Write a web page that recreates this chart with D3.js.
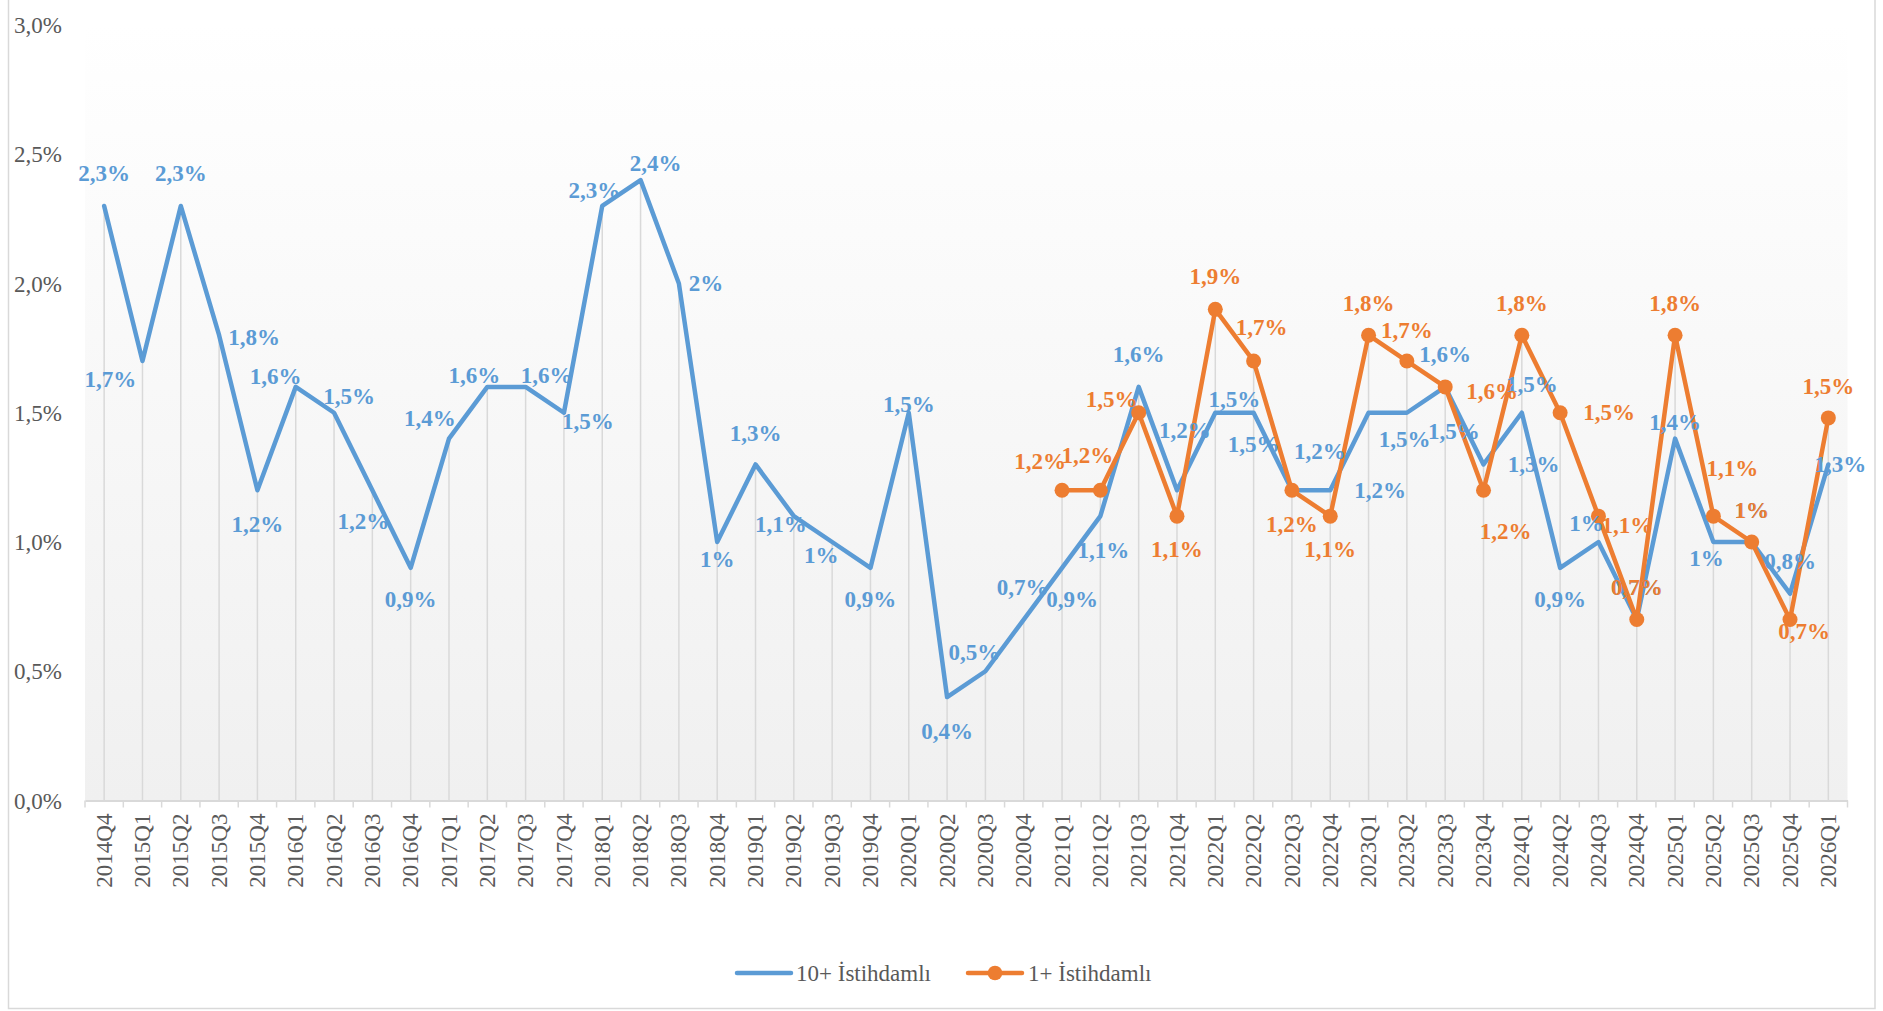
<!DOCTYPE html>
<html>
<head>
<meta charset="utf-8">
<script src="https://cdn.jsdelivr.net/npm/d3@7"></script>
<style>
  body { margin: 0; background: #fff; }
  svg { display: block; }
  text { font-family: "Liberation Serif", "Times New Roman", serif; }
</style>
</head>
<body>
<svg id="chart"></svg>
<script>
// quarters on the x axis
const categories = [
  '2014Q4',
  '2015Q1', '2015Q2', '2015Q3', '2015Q4',
  '2016Q1', '2016Q2', '2016Q3', '2016Q4',
  '2017Q1', '2017Q2', '2017Q3', '2017Q4',
  '2018Q1', '2018Q2', '2018Q3', '2018Q4',
  '2019Q1', '2019Q2', '2019Q3', '2019Q4',
  '2020Q1', '2020Q2', '2020Q3', '2020Q4',
  '2021Q1', '2021Q2', '2021Q3', '2021Q4',
  '2022Q1', '2022Q2', '2022Q3', '2022Q4',
  '2023Q1', '2023Q2', '2023Q3', '2023Q4',
  '2024Q1', '2024Q2', '2024Q3', '2024Q4',
  '2025Q1', '2025Q2', '2025Q3', '2025Q4',
  '2026Q1'
];

// 10+ İstihdamlı (%)
const tenPlus = [
  2.3,
  1.7, 2.3, 1.8, 1.2,
  1.6, 1.5, 1.2, 0.9,
  1.4, 1.6, 1.6, 1.5,
  2.3, 2.4, 2.0, 1.0,
  1.3, 1.1, 1.0, 0.9,
  1.5, 0.4, 0.5, 0.7,
  0.9, 1.1, 1.6, 1.2,
  1.5, 1.5, 1.2, 1.2,
  1.5, 1.5, 1.6, 1.3,
  1.5, 0.9, 1.0, 0.7,
  1.4, 1.0, 1.0, 0.8,
  1.3
];

// 1+ İstihdamlı (%), series starts at 2021Q1
const onePlus = [
  null,
  null, null, null, null,
  null, null, null, null,
  null, null, null, null,
  null, null, null, null,
  null, null, null, null,
  null, null, null, null,
  1.2, 1.2, 1.5, 1.1,
  1.9, 1.7, 1.2, 1.1,
  1.8, 1.7, 1.6, 1.2,
  1.8, 1.5, 1.1, 0.7,
  1.8, 1.1, 1.0, 0.7,
  1.48
];

const yTicks = [0, 0.5, 1.0, 1.5, 2.0, 2.5, 3.0];

const seriesNames = ['10+ İstihdamlı', '1+ İstihdamlı'];

// where each data label sits relative to its point (px)
const tenPlusLabelPos = [
  [0, -33],
  [-32, 18], [0, -33], [35, 2], [0, 34],
  [-20, -10], [15, -16], [-9, 31], [0, 32],
  [-19, -20], [-13, -11], [21, -11], [24, 9],
  [-8, -16], [15, -17], [27, 0], [0, 17],
  [0, -31], [-13, 8], [-11, 13], [0, 32],
  [0, -8], [0, 34], [-11, -19], [-1, -32],
  [10, 32], [3, 34], [0, -32], [8, -60],
  [19, -13], [0, 32], [28, -39], [50, 0],
  [36, 27], [47, 19], [0, -32], [50, 0],
  [10, -28], [0, 32], [-12, -19], [0, -32],
  [0, -16], [-7, 16], [0, -32], [0, -32],
  [12, 0]
];
const onePlusLabelPos = {
  '2021Q1': [-22, -29], '2021Q2': [-13, -35], '2021Q3': [-27, -13], '2021Q4': [0, 33],
  '2022Q1': [0, -33], '2022Q2': [8, -34], '2022Q3': [0, 34], '2022Q4': [0, 33],
  '2023Q1': [0, -32], '2023Q2': [0, -31], '2023Q3': [47, 5], '2023Q4': [22, 41],
  '2024Q1': [0, -32], '2024Q2': [49, 0], '2024Q3': [29, 9], '2024Q4': [0, -32],
  '2025Q1': [0, -32], '2025Q2': [19, -48], '2025Q3': [0, -32], '2025Q4': [14, 12],
  '2026Q1': [0, -32]
};

const W = 1883, H = 1011;
const blue = '#5b9bd5', orange = '#ed7d31', grey = '#d9d9d9', txt = '#595959';

const svg = d3.select('#chart').attr('width', W).attr('height', H);

const x = d3.scaleBand().domain(categories).range([85, 1847.5]).paddingInner(0).paddingOuter(0);
const cx = c => x(c) + x.bandwidth() / 2;
const y = d3.scaleLinear().domain([0, 3]).range([800.5, 25]);

const fmt = v => {
  const s = (Math.round(v * 10) / 10).toFixed(1).replace('.', ',');
  return (s.endsWith(',0') ? s.slice(0, -2) : s) + '%';
};

// chart border
svg.append('rect')
  .attr('x', 8.5).attr('y', -2).attr('width', 1866.5).attr('height', 1010.5)
  .attr('fill', '#fff').attr('stroke', grey).attr('stroke-width', 1.5);

// plot area gradient
const grad = svg.append('defs').append('linearGradient')
  .attr('id', 'plotGrad').attr('x1', 0).attr('y1', 0).attr('x2', 0).attr('y2', 1);
grad.append('stop').attr('offset', '0%').attr('stop-color', '#ffffff');
grad.append('stop').attr('offset', '100%').attr('stop-color', '#f0f0f0');

svg.append('rect')
  .attr('x', x.range()[0]).attr('y', y(3))
  .attr('width', x.range()[1] - x.range()[0]).attr('height', y(0) - y(3))
  .attr('fill', 'url(#plotGrad)');

// drop lines from highest point to the axis
svg.append('g').selectAll('line')
  .data(categories)
  .join('line')
  .attr('x1', c => cx(c)).attr('x2', c => cx(c))
  .attr('y1', (c, i) => y(Math.max(tenPlus[i], onePlus[i] ?? 0)))
  .attr('y2', y(0))
  .attr('stroke', grey).attr('stroke-width', 1.5);

// x axis
const xAxis = svg.append('g')
  .attr('transform', `translate(0,${y(0)})`)
  .call(d3.axisBottom(x).tickSize(0).tickPadding(0));
xAxis.select('.domain').attr('stroke', grey).attr('stroke-width', 2);
xAxis.selectAll('.tick text')
  .attr('transform', 'rotate(-90)')
  .attr('x', -13).attr('y', 0).attr('dy', '0.33em')
  .attr('text-anchor', 'end')
  .attr('fill', txt)
  .style('font-size', '23px');
xAxis.append('g').selectAll('line')
  .data(categories.map(c => x(c)).concat([x.range()[1]]))
  .join('line')
  .attr('x1', d => d).attr('x2', d => d)
  .attr('y1', 0).attr('y2', 7)
  .attr('stroke', grey).attr('stroke-width', 1.5);

// y axis
const yAxis = svg.append('g')
  .attr('transform', `translate(${x.range()[0]},0)`)
  .call(d3.axisLeft(y).tickValues(yTicks).tickSize(0).tickPadding(23)
    .tickFormat(v => v.toFixed(1).replace('.', ',') + '%'));
yAxis.select('.domain').remove();
yAxis.selectAll('.tick text')
  .attr('fill', txt)
  .attr('dy', '0.33em')
  .style('font-size', '23px');

// lines
const line = d3.line()
  .defined(d => d.v != null)
  .x(d => cx(d.c))
  .y(d => y(d.v));

const tenData = categories.map((c, i) => ({ c, v: tenPlus[i] }));
const oneData = categories.map((c, i) => ({ c, v: onePlus[i] })).filter(d => d.v != null);

svg.append('path')
  .datum(tenData)
  .attr('d', line)
  .attr('fill', 'none').attr('stroke', blue).attr('stroke-width', 4.5)
  .attr('stroke-linejoin', 'round').attr('stroke-linecap', 'round');

svg.append('path')
  .datum(oneData)
  .attr('d', line)
  .attr('fill', 'none').attr('stroke', orange).attr('stroke-width', 4.5)
  .attr('stroke-linejoin', 'round').attr('stroke-linecap', 'round');

svg.append('g').selectAll('circle')
  .data(oneData)
  .join('circle')
  .attr('cx', d => cx(d.c)).attr('cy', d => y(d.v))
  .attr('r', 7.5)
  .attr('fill', orange);

// data labels
svg.append('g').selectAll('text')
  .data(tenData)
  .join('text')
  .attr('x', (d, i) => cx(d.c) + tenPlusLabelPos[i][0])
  .attr('y', (d, i) => y(d.v) + tenPlusLabelPos[i][1])
  .attr('dy', '0.33em')
  .attr('text-anchor', 'middle')
  .attr('fill', blue)
  .style('font-size', '23px').style('font-weight', 'bold')
  .text(d => fmt(d.v));

svg.append('g').selectAll('text')
  .data(oneData)
  .join('text')
  .attr('x', d => cx(d.c) + onePlusLabelPos[d.c][0])
  .attr('y', d => y(d.v) + onePlusLabelPos[d.c][1])
  .attr('dy', '0.33em')
  .attr('text-anchor', 'middle')
  .attr('fill', orange)
  .style('font-size', '23px').style('font-weight', 'bold')
  .text(d => fmt(d.v));

// legend
const legend = svg.append('g').attr('transform', 'translate(0,973)');
const items = [
  { name: seriesNames[0], color: blue, x0: 737, marker: false },
  { name: seriesNames[1], color: orange, x0: 968, marker: true }
];
const li = legend.selectAll('g').data(items).join('g')
  .attr('transform', d => `translate(${d.x0},0)`);
li.append('line')
  .attr('x1', 0).attr('x2', 54).attr('y1', 0).attr('y2', 0)
  .attr('stroke', d => d.color).attr('stroke-width', 4.5).attr('stroke-linecap', 'round');
li.filter(d => d.marker).append('circle')
  .attr('cx', 27).attr('cy', 0).attr('r', 7.3).attr('fill', d => d.color);
li.append('text')
  .attr('x', d => d.marker ? 60 : 59).attr('y', 0).attr('dy', '0.33em')
  .attr('fill', txt)
  .style('font-size', '23px')
  .text(d => d.name);
</script>
</body>
</html>
